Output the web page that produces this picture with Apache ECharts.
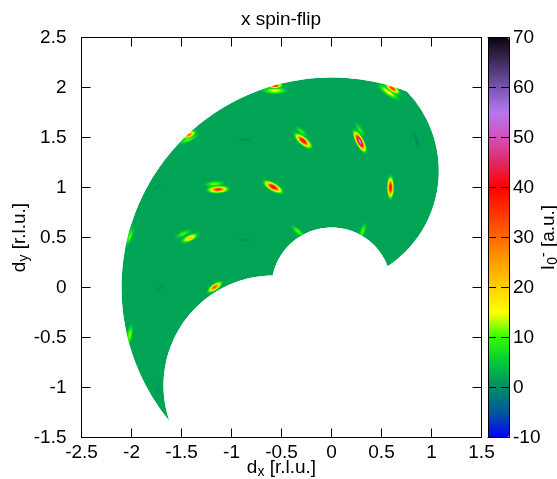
<!DOCTYPE html>
<html><head><meta charset="utf-8">
<script src="https://cdn.jsdelivr.net/npm/echarts@6/dist/echarts.min.js"></script>
<style>html,body{margin:0;padding:0;background:#fff}#c{width:557px;height:479px}</style>
</head><body><div id="c"></div>
<script>
// ---------------- data ----------------
const xMin = -2.5, xMax = 1.5, yMin = -1.5, yMax = 2.5, tickStep = 0.5;
const cbMin = -10, cbMax = 70, cbStep = 10;
// colour palette sampled every 5 a.u. from -10 to 70
const paletteColors = ['#0000ff','#00589c','#008c64','#00c83c','#30ff00','#ffff00','#ffd200','#ffa000',
  '#ff6900','#ff3200','#ff0000','#e02864','#d250b9','#b478f0','#7855af','#412d5f','#0a050f'];
const backgroundLevel = 2;

// measured coverage boundary: four circular arcs (centre x, centre y, radius, start/end angle in deg)
const arcCx = [0, -0.073, 0, -0.58];
const arcCy = [0, 1.166, 0, -0.98];
const arcR = [2.1, 1.146, 0.6, 1.1];
const arcStart = [219.6, 43.9, 20.6, 90.2];
const arcEnd = [69, -56.6, 169, 198.8];

// intensity spots: position (r.l.u.), peak (a.u.), orientation (deg), half length / half width (r.l.u.)
const spotX =     [-0.867,-1.734, 0.85,-0.867,-1.717,-1.734, -0.567,-1.43,-1.17,-0.30, 0.283, 0.57,-1.483,-2.017,-0.333, 0.31,-2.017, -0.567, 0.61,-1.424,-0.284, 0.283,-1.134,-0.583, 0.59,-1.417,-1.167];
const spotY =     [ 1.477, 1.01, 1.477, 0.477,-0.006,-1.006,  1.97, 1.485, 1.035, 1.56, 1.577, 1.955, 0.537, 0.51, 0.56, 0.56,-0.473,  2.02, 1.99, 1.527, 1.467, 1.46, 0.98, 1.005, 1.0, 0.494, 0.004];
const spotPeak =  [ -0.5, -0.5, -0.5, -0.5, -0.5, -0.5,   16, 13, 12, 9, 9, 17, 10, 11, 11, 11, 13,   42, 36, 31, 43, 56, 37, 43, 43, 22, 33];
const spotAngle = [ -10, 40, 108, 0, 45, 75,   0, 25, 3, -40, -60, -35, 25, 70, -40, 70, 80,   0, -35, 25, -40, -62, 3, -30, 90, 25, 35];
const spotLen =   [0.07,0.05,0.10,0.07,0.05,0.06, 0.12,0.10,0.10,0.08,0.08,0.12,0.09,0.10,0.09,0.09,0.10, 0.07,0.08,0.07,0.10,0.11,0.10,0.10,0.105,0.09,0.08];
const spotWid =   [0.015,0.015,0.02,0.015,0.015,0.015, 0.035,0.03,0.032,0.028,0.028,0.035,0.03,0.03,0.028,0.028,0.03, 0.026,0.032,0.03,0.038,0.036,0.035,0.038,0.032,0.032,0.032];

// ---------------- build ----------------
const FONT = "'Liberation Sans', Arial, Helvetica, sans-serif";
function palColor(v){ let n=(v-cbMin)/(cbMax-cbMin); n=Math.max(0,Math.min(1,n)); return echarts.color.lerp(n, paletteColors); }
const bgColor = palColor(backgroundLevel);

function arcPoints(i){
  const pts=[], n=90;
  for(let k=0;k<=n;k++){
    const a=(arcStart[i]+(arcEnd[i]-arcStart[i])*k/n)*Math.PI/180;
    pts.push([arcCx[i]+arcR[i]*Math.cos(a), arcCy[i]+arcR[i]*Math.sin(a)]);
  }
  return pts;
}
const boundary = [].concat(arcPoints(0), arcPoints(1), arcPoints(2), arcPoints(3));
const spotData = spotX.map((x,i)=>[x, spotY[i], spotPeak[i], spotAngle[i], spotLen[i], spotWid[i]]);

const rich = {
  sub:{fontSize:14, fontFamily:FONT, color:'#000', padding:[9,0,0,0]},
  sup:{fontSize:14, fontFamily:FONT, color:'#000', padding:[0,0,9,0]}
};
const nameStyle = {fontSize:19, fontFamily:FONT, color:'#000', rich};

function mainAxis(dir, pos, showLabel, extra){
  return Object.assign({
    gridIndex:0, type:'value', position:pos, z:10,
    min: dir==='x'?xMin:yMin, max: dir==='x'?xMax:yMax, interval:tickStep,
    axisLine:{show:true, onZero:false, lineStyle:{color:'#000', width:1}},
    axisTick:{show:true, inside:true, length:9, lineStyle:{color:'#000', width:1}},
    axisLabel:{show:showLabel, color:'#000', fontSize:19, fontFamily:FONT, margin: dir==='x'?6:15},
    splitLine:{show:false}
  }, extra||{});
}

const chart = echarts.init(document.getElementById('c'), null, {renderer:'canvas'});
chart.setOption({
  animation:false,
  backgroundColor:'#fff',
  grid:[
    {left:81.5, top:37.5, width:400, height:400, outerBoundsMode:'none', containLabel:false},
    {left:488, top:37.5, width:21, height:400, outerBoundsMode:'none', containLabel:false}
  ],
  xAxis:[
    mainAxis('x','bottom',true,{name:'d{sub|x} [r.l.u.]', nameLocation:'middle', nameGap:19, nameMoveOverlap:false, nameTextStyle:nameStyle}),
    mainAxis('x','top',false),
    {gridIndex:1, type:'value', min:0, max:1, position:'bottom', z:10, axisLine:{show:true,onZero:false,lineStyle:{color:'#000'}}, axisTick:{show:false}, axisLabel:{show:false}, splitLine:{show:false}},
    {gridIndex:1, type:'value', min:0, max:1, position:'top', z:10, axisLine:{show:true,onZero:false,lineStyle:{color:'#000'}}, axisTick:{show:false}, axisLabel:{show:false}, splitLine:{show:false}}
  ],
  yAxis:[
    mainAxis('y','left',true,{name:'d{sub|y} [r.l.u.]', nameLocation:'middle', nameGap:50, nameRotate:90, nameMoveOverlap:false, nameTextStyle:nameStyle}),
    mainAxis('y','right',false),
    {gridIndex:1, type:'value', min:cbMin, max:cbMax, interval:cbStep, position:'left', z:10,
      axisLine:{show:true,onZero:false,lineStyle:{color:'#000'}}, axisTick:{show:true,inside:true,length:8,lineStyle:{color:'#000'}},
      axisLabel:{show:false}, splitLine:{show:false}},
    {gridIndex:1, type:'value', min:cbMin, max:cbMax, interval:cbStep, position:'right', z:10,
      axisLine:{show:true,onZero:false,lineStyle:{color:'#000'}}, axisTick:{show:true,inside:true,length:8,lineStyle:{color:'#000'}},
      axisLabel:{show:true, color:'#000', fontSize:19, fontFamily:FONT, margin:4}, splitLine:{show:false},
      name:'I{sub|0}{sup|-} [a.u.]', nameLocation:'middle', nameGap:28, nameRotate:90, nameMoveOverlap:false, nameTextStyle:nameStyle}
  ],
  visualMap:{
    type:'continuous', min:cbMin, max:cbMax, calculable:false, seriesIndex:1, dimension:2,
    inRange:{color:paletteColors}, itemWidth:21, itemHeight:400, left:488, top:37.5, padding:0,
    orient:'vertical', text:null, showLabel:false, hoverLink:false, z:1
  },
  graphic:[
    {type:'text', x:281, y:20, z:20, style:{text:'x spin-flip', fill:'#000', font:'19px '+FONT, align:'center', verticalAlign:'middle'}}
  ],
  series:[
    { type:'custom', name:'coverage', xAxisIndex:0, yAxisIndex:0, z:1, silent:true, clip:false,
      data:[[0,0]],
      renderItem:(params, api)=>({type:'polygon', shape:{points:boundary.map(p=>api.coord(p))}, style:{fill:bgColor}})
    },
    { type:'custom', name:'spots', xAxisIndex:0, yAxisIndex:0, z:2, silent:true, clip:false,
      data:spotData,
      renderItem:(params, api)=>{
        const c = api.coord([api.value(0), api.value(1)]);
        const pk = api.value(2), ang = api.value(3);
        const rx = api.size([api.value(4)*1.43, 0])[0];
        const ry = api.size([0, api.value(5)*1.43])[1];
        const stops = [];
        for(let k=0;k<=14;k++){
          const t=k/14;
          const v = backgroundLevel + (pk-backgroundLevel)*Math.exp(-3.8*t*t);
          const a = t<0.7 ? 1 : Math.max(0,(1-t)/0.3);
          stops.push({offset:t, color:echarts.color.modifyAlpha(palColor(v), a)});
        }
        return {type:'circle', x:c[0], y:c[1], scaleX:rx/10, scaleY:ry/10, rotation:ang*Math.PI/180,
          shape:{cx:0, cy:0, r:10}, style:{fill:new echarts.graphic.RadialGradient(0.5,0.5,0.5,stops)}};
      }
    },
    { type:'custom', name:'mask', xAxisIndex:0, yAxisIndex:0, z:3, silent:true, clip:false,
      data:[[0,0]],
      renderItem:(params, api)=>{
        const cs = params.coordSys;
        const L=cs.x, T=cs.y, R=cs.x+cs.width, B=cs.y+cs.height;
        const pts=[[L,B],[L,T],[R,T],[R,B],[L,B]];
        for(let i=boundary.length-1;i>=0;i--) pts.push(api.coord(boundary[i]));
        return {type:'polygon', shape:{points:pts}, style:{fill:'#fff'}};
      }
    }
  ]
});
</script></body></html>
